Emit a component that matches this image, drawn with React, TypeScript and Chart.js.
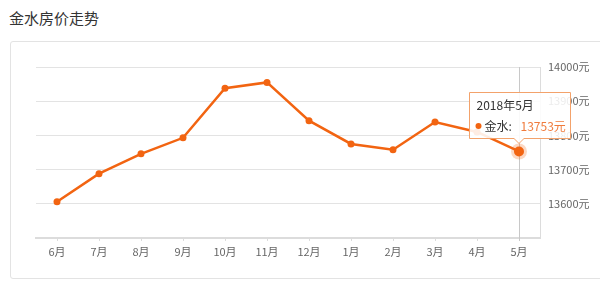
import React, { useEffect, useRef } from "react";
import { Chart, registerables } from "chart.js";

Chart.register(...registerables);

const months = ["6月", "7月", "8月", "9月", "10月", "11月", "12月", "1月", "2月", "3月", "4月", "5月"];
const prices = [13606, 13688, 13746, 13793, 13938, 13955, 13843, 13775, 13758, 13839, 13810, 13753];
const seriesName = "金水";
const activeIndex = 11;
const activeLabel = "2018年5月";
const yMin = 13500;
const yMax = 14000;
const yStep = 100;

const ORANGE = "#f26411";
const FONT = '"Noto Sans CJK SC", "Noto Sans", sans-serif';

const tooltipPlugin = {
  id: "fixedTooltip",
  afterDatasetsDraw(chart: any) {
    const meta = chart.getDatasetMeta(0);
    const pt = meta.data[activeIndex];
    if (!pt) return;
    const ctx = chart.ctx;
    const area = chart.chartArea;
    const x = pt.x;
    const y = pt.y;
    ctx.save();
    // crosshair
    ctx.strokeStyle = "#c8c8c8";
    ctx.lineWidth = 1;
    ctx.beginPath();
    ctx.moveTo(Math.round(x) + 0.5, area.top);
    ctx.lineTo(Math.round(x) + 0.5, area.bottom + 3);
    ctx.stroke();
    // halo + point
    ctx.fillStyle = "rgba(242,100,17,0.25)";
    ctx.beginPath();
    ctx.arc(x, y, 8, 0, Math.PI * 2);
    ctx.fill();
    ctx.fillStyle = ORANGE;
    ctx.beginPath();
    ctx.arc(x, y, 5, 0, Math.PI * 2);
    ctx.fill();
    // tooltip box
    const bw = 101;
    const bh = 46;
    const bx = Math.round(x - 50) + 0.5;
    const by = Math.round(y - 13 - bh) + 0.5;
    const tipY = y - 8;
    ctx.beginPath();
    ctx.moveTo(bx, by);
    ctx.lineTo(bx + bw, by);
    ctx.lineTo(bx + bw, by + bh);
    ctx.lineTo(x + 5, by + bh);
    ctx.lineTo(x, tipY);
    ctx.lineTo(x - 5, by + bh);
    ctx.lineTo(bx, by + bh);
    ctx.closePath();
    ctx.fillStyle = "rgba(255,255,255,0.88)";
    ctx.fill();
    ctx.strokeStyle = "#f3a26b";
    ctx.lineWidth = 1;
    ctx.stroke();
    // texts
    ctx.textBaseline = "middle";
    ctx.textAlign = "left";
    ctx.font = `12px ${FONT}`;
    ctx.fillStyle = "#333";
    ctx.fillText(activeLabel, bx + 7, by + 12.5);
    ctx.fillStyle = ORANGE;
    ctx.beginPath();
    ctx.arc(bx + 9, by + 33.5, 3, 0, Math.PI * 2);
    ctx.fill();
    ctx.fillStyle = "#333";
    ctx.fillText(seriesName + ":", bx + 15, by + 33.5);
    ctx.fillStyle = "#f07b3c";
    ctx.fillText(prices[activeIndex] + "元", bx + 51, by + 33.5);
    ctx.restore();
  },
};

function LineChart() {
  const ref = useRef<HTMLCanvasElement | null>(null);
  useEffect(() => {
    if (!ref.current) return;
    const chart = new Chart(ref.current, {
      type: "line",
      data: {
        labels: months,
        datasets: [
          {
            label: seriesName,
            data: prices,
            borderColor: ORANGE,
            backgroundColor: ORANGE,
            borderWidth: 2.5,
            pointRadius: 3.5,
            pointBackgroundColor: ORANGE,
            pointBorderWidth: 0,
            tension: 0,
          },
        ],
      },
      options: {
        animation: false,
        responsive: false,
        maintainAspectRatio: false,
        events: [],
        layout: { padding: { left: 25, top: 25, right: 0, bottom: 0 } },
        plugins: { legend: { display: false }, tooltip: { enabled: false }, title: { display: false } },
        scales: {
          x: {
            type: "category",
            offset: true,
            grid: {
              display: true,
              drawOnChartArea: false,
              drawTicks: true,
              tickLength: 3,
              offset: false,
              color: "#dcdcdc",
            },
            border: { display: true, color: "#dcdcdc", width: 2 },
            ticks: { color: "#666", font: { size: 11, family: FONT }, padding: 4, maxRotation: 0, autoSkip: false },
            afterFit(axis: any) {
              axis.height = 40;
            },
          },
          y: {
            position: "right",
            min: yMin,
            max: yMax,
            grid: { color: "#e3e3e3", drawTicks: false, lineWidth: 1 },
            border: { display: true, color: "#dcdcdc", width: 1 },
            ticks: {
              stepSize: yStep,
              color: "#666",
              font: { size: 11, family: FONT },
              padding: 8,
              callback: (v: any) => (v === yMin ? "" : v + "元"),
            },
            afterFit(axis: any) {
              axis.width = 60;
            },
          },
        },
      },
      plugins: [tooltipPlugin],
    });
    return () => chart.destroy();
  }, []);
  return <canvas ref={ref} width={589} height={236} style={{ display: "block", width: 589, height: 236 }} />;
}

export default function App() {
  return (
    <div style={{ position: "fixed", left: 0, top: 0, width: 600, height: 286, background: "#fff", overflow: "hidden", fontFamily: FONT }}>
      <div style={{ position: "absolute", left: 9, top: 7, fontSize: 15, lineHeight: "22px", color: "#333" }}>金水房价走势</div>
      <div
        style={{
          position: "absolute",
          left: 10,
          top: 41,
          width: 600,
          height: 236,
          border: "1px solid #e3e3e3",
          borderRadius: 3,
        }}
      >
        <LineChart />
      </div>
    </div>
  );
}
